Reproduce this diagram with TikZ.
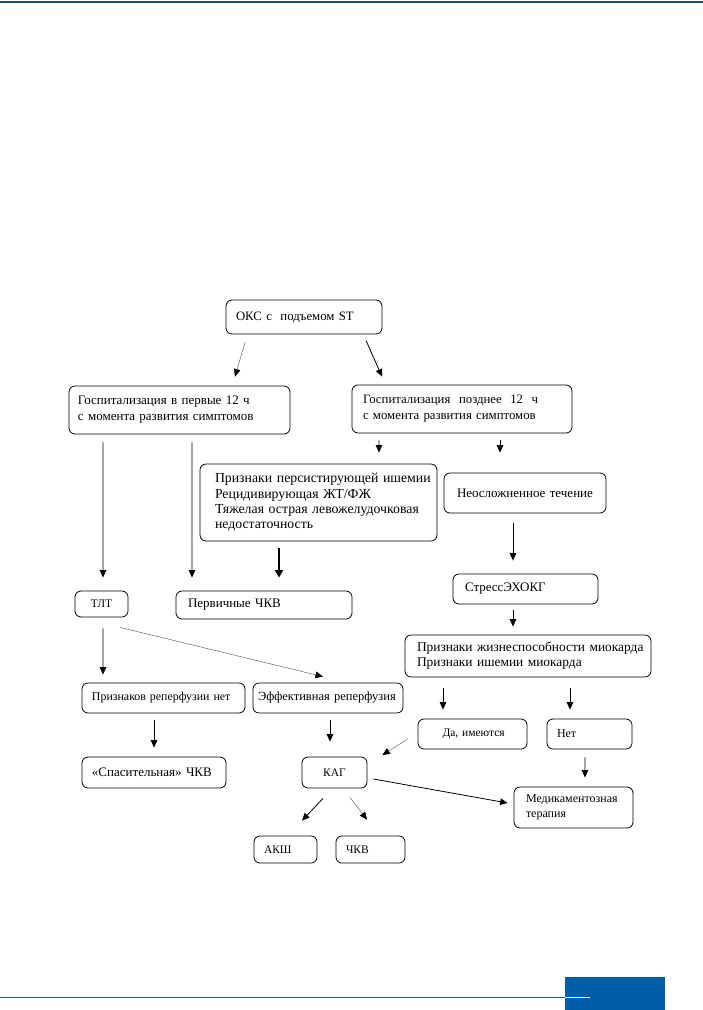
\documentclass[tikz,border=0pt]{standalone}
\usepackage{fontspec}
\setmainfont{Liberation Serif}
\usetikzlibrary{arrows.meta,calc}
\definecolor{topline}{HTML}{1F4E6B}
\definecolor{footblue}{HTML}{005EA8}
\definecolor{footline}{HTML}{1D5F88}
\begin{document}
\begin{tikzpicture}[x=1bp,y=-1bp,
  box/.style={draw, line width=0.8bp, rounded corners=6bp, align=left,
     font=\fontsize{11.5bp}{14bp}\selectfont, inner ysep=0pt},
  fs/.style 2 args={font=\fontsize{#1bp}{#2bp}\selectfont},
  arr/.style={line width=0.8bp, -{Triangle[length=7.5bp,width=6.5bp]}},
  thinarr/.style={line width=0.5bp, draw=black!60, -{Triangle[length=7.5bp,width=6.5bp,color=black]}},
  thickarr/.style={line width=2.6bp, -{Triangle[length=7.5bp,width=8bp]}}]
\useasboundingbox (0,0) rectangle (703,1010);
% page decorations
\draw[topline, line width=1.5bp] (0,2) -- (703,2);
\draw[footline, line width=1bp] (0,997) -- (565,997);
\fill[footblue] (565,977) rectangle (665,1010);
\draw[white, line width=1bp] (565,997) -- (590,997);

% nodes
\node[box, fs={12.8}{15}, minimum height=34bp, text width=136bp, inner xsep=10bp] (okc) at (304,317) {\mbox{ОКС с\ \ подъемом ST}};
\node[box, fs={13}{16}, minimum height=48bp, text width=203bp, inner xsep=9bp] (g1) at (179.5,410) {\mbox{Госпитализация в первые 12 ч}\\\mbox{с момента развития симптомов}};
\node[box, fs={12.8}{16}, minimum height=48bp, text width=198bp, inner xsep=11bp] (g2) at (462,409) {\mbox{Госпитализация\ \ позднее\ \ 12\ \ ч}\\\mbox{с момента развития симптомов}};
\node[box, fs={13.8}{15.3}, minimum height=77bp, text width=207bp, inner xsep=15bp] (pi) at (318.5,502.5) {\mbox{Признаки персистирующей ишемии}\\\mbox{Рецидивирующая ЖТ/ФЖ}\\\mbox{Тяжелая острая левожелудочковая}\\\mbox{недостаточность}};
\node[box, fs={13}{15}, minimum height=40bp, text width=136bp, inner xsep=13bp] (neo) at (525,493) {\mbox{Неосложненное течение}};
\node[box, minimum height=26bp, minimum width=53bp, align=center, inner xsep=2bp] (tlt) at (101.5,604) {ТЛТ};
\node[box, fs={13}{15}, minimum height=28bp, text width=152bp, inner xsep=12bp] (pk) at (264,605) {\mbox{Первичные ЧКВ}};
\node[box, fs={13}{15}, minimum height=30bp, text width=121bp, inner xsep=12bp] (stress) at (525.5,589) {\mbox{СтрессЭХОКГ}};
\node[box, fs={13.4}{15}, minimum height=42bp, text width=222bp, inner xsep=12bp] (viab) at (528,656) {\mbox{Признаки жизнеспособности миокарда}\\\mbox{Признаки ишемии миокарда}};
\node[box, fs={11.9}{14}, minimum height=30bp, text width=143bp, inner xsep=10bp] (norep) at (163.5,698) {\mbox{Признаков реперфузии нет}};
\node[box, fs={12.5}{15}, minimum height=30bp, text width=140bp, inner xsep=5bp] (eff) at (328,698) {\mbox{Эффективная реперфузия}};
\node[box, minimum height=30bp, text width=84bp, inner xsep=12.5bp] (yes) at (472.5,734) {\mbox{\hspace*{12bp}Да, имеются}};
\node[box, fs={12}{14}, minimum height=30bp, text width=65bp, inner xsep=10bp] (no) at (589.5,734) {Нет};
\node[box, fs={13}{15}, minimum height=31bp, text width=124bp, inner xsep=10bp] (rescue) at (154,772.5) {\mbox{«Спасительная» ЧКВ}};
\node[box, minimum height=31bp, minimum width=65bp, align=center, inner xsep=2bp] (kag) at (334.5,772.5) {КАГ};
\node[box, minimum height=27bp, text width=43bp, inner xsep=10bp] (aksh) at (285.5,849.5) {АКШ};
\node[box, minimum height=27bp, text width=49bp, inner xsep=10bp] (chkv) at (370.5,849.5) {ЧКВ};
\node[box, fs={12}{15}, minimum height=41bp, text width=95bp, inner xsep=12bp] (med) at (573.5,807.5) {\mbox{Медикаментозная}\\\mbox{терапия}};

% connectors
\draw[thinarr] ($(okc.south)+(-59,8)$) -- ($(g1.north)+(55.5,-9)$);
\draw[arr] ($(okc.south)+(62,6)$) -- ($(g2.north)+(-80,-8)$);
\draw[arr] ($(g1.south)+(-76.5,8)$) -- ($(tlt.north)+(1.5,-13)$);
\draw[arr] ($(g1.south)+(12.5,8)$) -- ($(pk.north)+(-72,-13)$);
\draw[arr] ($(g2.south)+(-83,7)$) -- ($(pi.north)+(60.5,-11)$);
\draw[arr] ($(g2.south)+(38,7)$) -- ($(neo.north)+(-25,-20)$);
\draw[thickarr] ($(pi.south)+(-39.5,7)$) -- ($(pk.north)+(15,-13)$);
\draw[arr] ($(neo.south)+(-12,10)$) -- ($(stress.north)+(-12.5,-13)$);
\draw[arr] ($(stress.south)+(-12.5,6)$) -- ($(viab.north)+(-15,-8)$);
\draw[arr] ($(tlt.south)+(1.5,11)$) -- ($(norep.north)+(-60.5,-8)$);
\draw[thinarr] ($(tlt.south)+(18.5,10)$) -- ($(eff.north)+(-5,-6)$);
\draw[arr] ($(viab.south)+(-85,11)$) -- ($(yes.north)+(-29.5,-9)$);
\draw[arr] ($(viab.south)+(42,11)$) -- ($(no.north)+(-19.5,-9)$);
\draw[arr] ($(norep.south)+(-9.5,7)$) -- ($(rescue.north)+(0,-9)$);
\draw[arr] ($(eff.south)+(2,7)$) -- ($(kag.north)+(-4.5,-15)$);
\draw[thinarr] ($(yes.west)+(-10,5)$) -- ($(kag.east)+(15,-17.5)$);
\draw[arr] ($(no.south)+(-4.5,8)$) -- ($(med.north)+(11.5,-9)$);
\draw[arr] ($(kag.east)+(6,6.5)$) -- ($(med.west)+(-6,-4.5)$);
\draw[arr] ($(kag.south)+(-11.5,10)$) -- ($(aksh.north)+(16.5,-15)$);
\draw[thinarr] ($(kag.south)+(15.5,9)$) -- ($(chkv.north)+(-3.5,-16)$);
\end{tikzpicture}
\end{document}
